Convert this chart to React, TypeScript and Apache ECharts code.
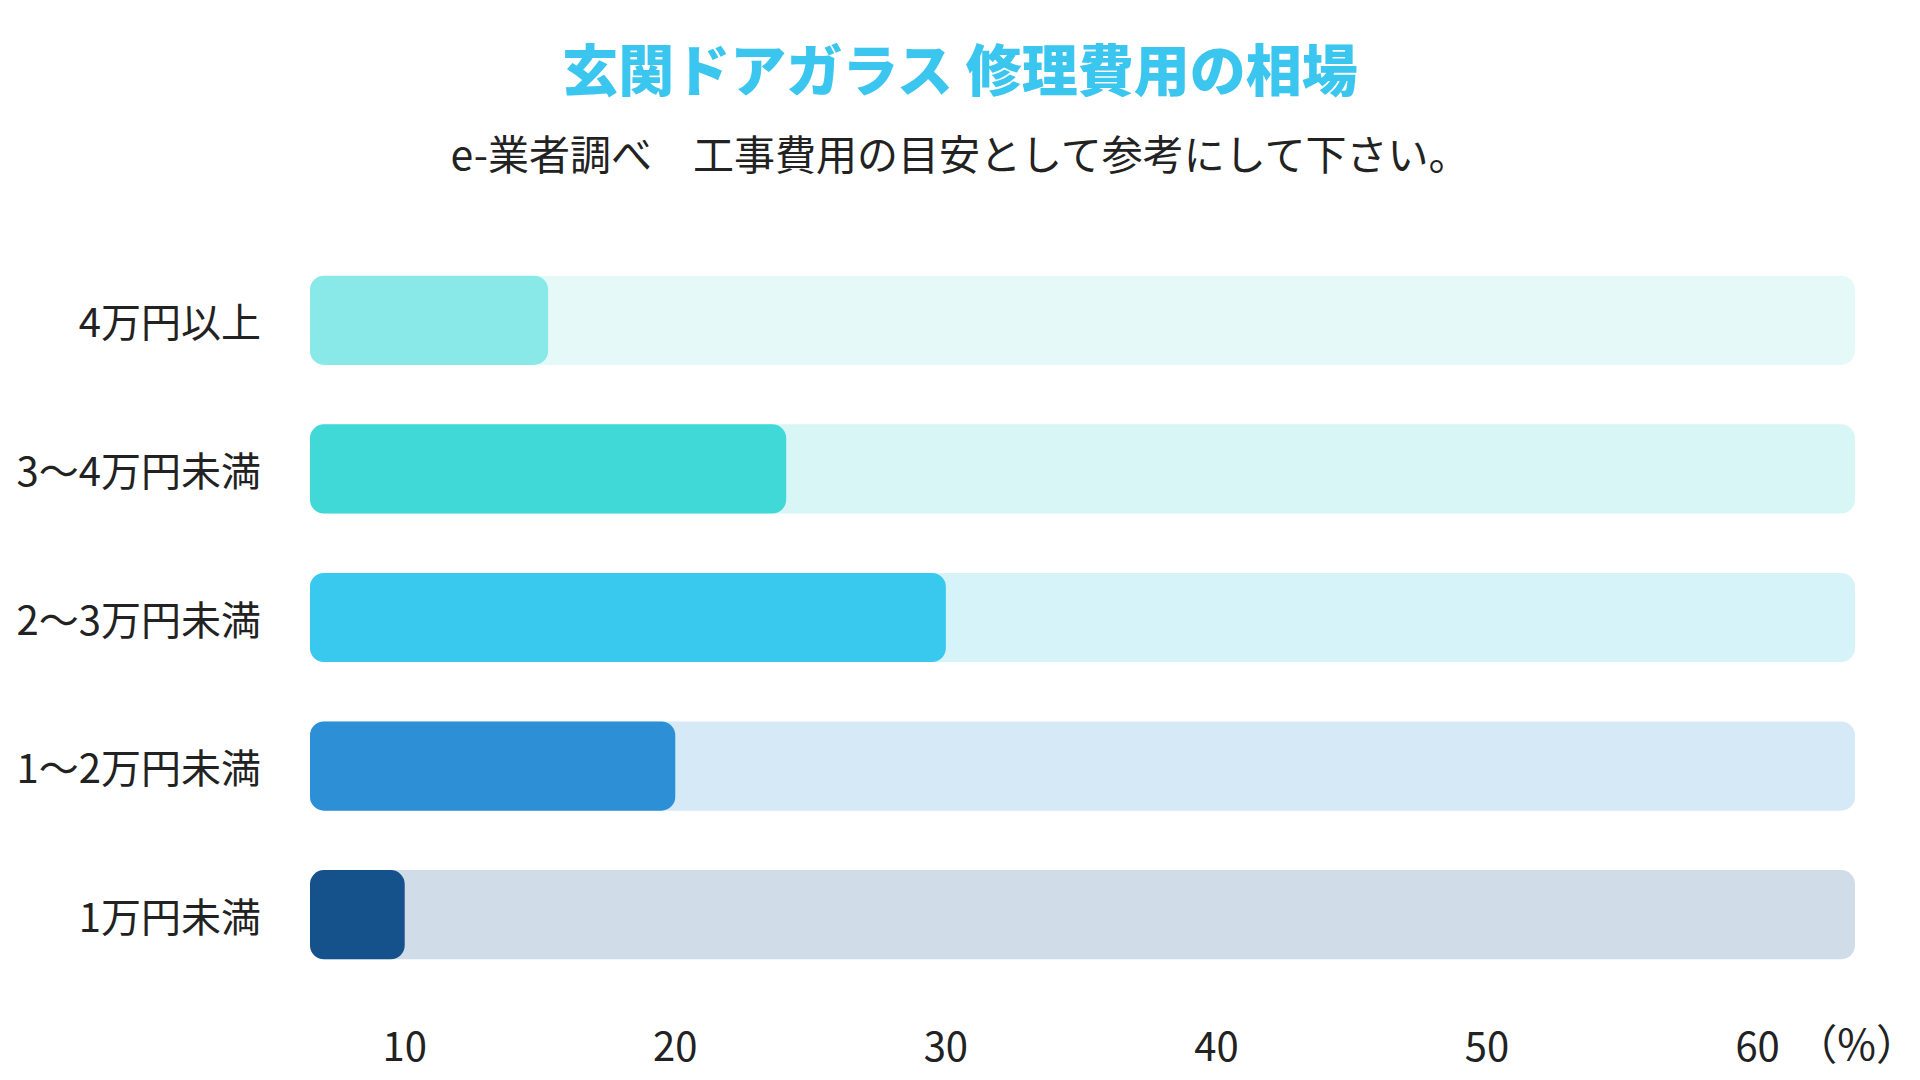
import React, { useEffect, useRef } from 'react';
import * as echarts from 'echarts';

const categories = ['1万円未満', '1〜2万円未満', '2〜3万円未満', '3〜4万円未満', '4万円以上'];
const values = [10, 20, 30, 24.1, 15.3];
const barColors = ['#15518A', '#2D90D6', '#39C8EE', '#40D9D8', '#89E9E8'];
const trackColors = ['#D0DCE7', '#D6E9F6', '#D7F3FA', '#D7F6F5', '#E6F9F9'];
const axisMin = 6.5;
const axisMax = 63.6;
const tickValues = [10, 20, 30, 40, 50, 60];
const unitLabel = '（%）';
const titleText = '玄関ドアガラス 修理費用の相場';
const subtitleText = 'e-業者調べ　工事費用の目安として参考にして下さい。';

const FONT = '"Noto Sans CJK JP", "Noto Sans", sans-serif';

function makeRender(colors: string[]) {
  return (params: any, api: any) => {
    const idx = params.dataIndex;
    const cat = api.value(1);
    const start = api.coord([axisMin, cat]);
    const end = api.coord([api.value(0), cat]);
    const band = api.size([0, 1])[1];
    const h = band * 0.6;
    return {
      type: 'rect',
      shape: { x: start[0], y: start[1] - h / 2, width: end[0] - start[0], height: h, r: 14 },
      style: { fill: colors[idx] },
    };
  };
}

export default function App() {
  const ref = useRef<HTMLDivElement>(null);
  useEffect(() => {
    if (!ref.current) return;
    const chart = echarts.init(ref.current, undefined, { renderer: 'svg' });
    chart.setOption({
      animation: false,
      backgroundColor: '#ffffff',
      textStyle: { fontFamily: FONT },
      title: [
        {
          text: titleText,
          left: 'center',
          top: 33,
          textStyle: { fontSize: 56, fontWeight: 900, color: '#3AC6EE', fontFamily: FONT, lineHeight: 56 },
        },
        {
          text: subtitleText,
          left: 'center',
          top: 126,
          textStyle: { fontSize: 41, fontWeight: 'normal', color: '#222222', fontFamily: FONT, lineHeight: 42 },
        },
      ],
      grid: { left: 310, right: 65, top: 246, bottom: 91, containLabel: false },
      xAxis: {
        type: 'value',
        min: axisMin,
        max: axisMax,
        axisLine: { show: false },
        axisTick: { show: false },
        splitLine: { show: false },
        axisLabel: {
          customValues: tickValues,
          fontSize: 40,
          margin: 35,
          color: '#222222',
          fontFamily: FONT,
        },
      },
      yAxis: {
        type: 'category',
        data: categories,
        axisLine: { show: false },
        axisTick: { show: false },
        splitLine: { show: false },
        axisLabel: { fontSize: 40, margin: 49, color: '#222222', fontFamily: FONT, padding: [0, 0, 6, 0] },
      },
      graphic: [
        {
          type: 'text',
          right: 2,
          top: 1020,
          style: { text: unitLabel, fontSize: 42, fill: '#222222', fontFamily: FONT },
        },
      ],
      series: [
        {
          type: 'custom',
          name: 'track',
          renderItem: makeRender(trackColors),
          encode: { x: 0, y: 1 },
          data: categories.map((_, i) => [axisMax, i]),
          z: 1,
        },
        {
          type: 'custom',
          name: 'value',
          renderItem: makeRender(barColors),
          encode: { x: 0, y: 1 },
          data: values.map((v, i) => [v, i]),
          z: 2,
        },
      ],
    });
    return () => chart.dispose();
  }, []);
  return <div ref={ref} style={{ position: 'fixed', left: 0, top: 0, width: 1920, height: 1080 }} />;
}
